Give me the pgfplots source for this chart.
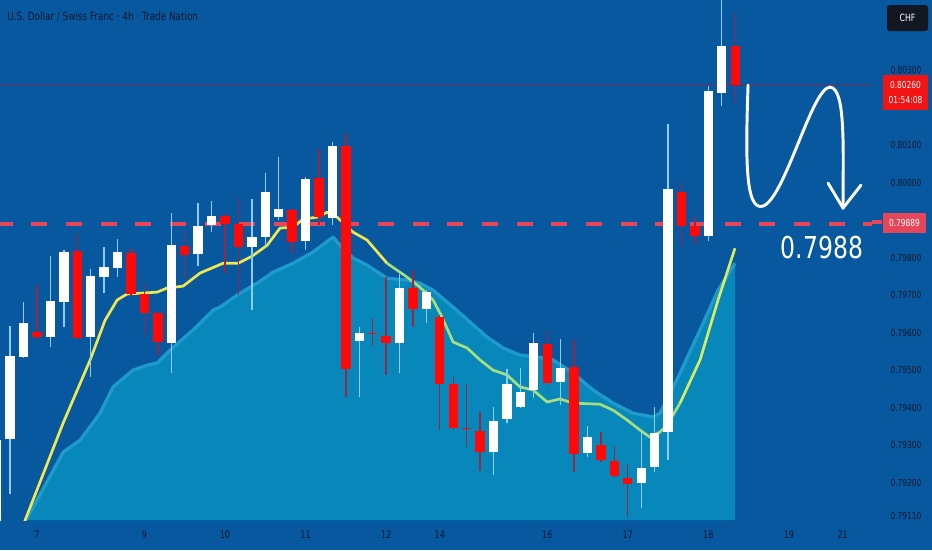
\documentclass[border=0pt]{standalone}
\usepackage{fontspec}
\setmainfont{DejaVu Sans}[FakeStretch=0.78]
\usepackage{pgfplots}
\usepackage{pgfplotstable}
\pgfplotsset{compat=1.18}

\definecolor{bg}{RGB}{7,88,158}
\definecolor{areac}{RGB}{8,136,186}
\definecolor{areal}{RGB}{30,154,204}
\definecolor{txt}{RGB}{12,24,48}
\definecolor{candred}{RGB}{255,8,8}
\definecolor{wickw}{RGB}{140,205,240}
\definecolor{wickr}{RGB}{150,40,70}
\definecolor{maY}{RGB}{240,232,80}
\definecolor{maG}{RGB}{165,222,125}
\definecolor{maYG}{RGB}{215,236,95}
\definecolor{dashr}{RGB}{230,70,90}
\definecolor{lastp}{RGB}{242,20,20}
\definecolor{lastline}{RGB}{110,45,85}
\definecolor{chfbox}{RGB}{19,23,34}

\pgfplotstableread{
i O H L C
0 0.79073 0.79327 0.79060 0.79313
1 0.79316 0.79617 0.79169 0.79537
2 0.79535 0.79681 0.79532 0.79625
4 0.79588 0.79804 0.79561 0.79684
5 0.79681 0.79820 0.79615 0.79815
7 0.79588 0.79769 0.79481 0.79751
8 0.79748 0.79828 0.79705 0.79775
9 0.79772 0.79849 0.79748 0.79815
13 0.79572 0.79919 0.79492 0.79833
15 0.79809 0.79945 0.79777 0.79884
16 0.79887 0.79951 0.79868 0.79911
19 0.79828 0.79956 0.79660 0.79855
20 0.79855 0.80025 0.79828 0.79975
21 0.79908 0.80068 0.79900 0.79929
23 0.79844 0.80015 0.79820 0.80009
25 0.79905 0.80108 0.79887 0.80097
27 0.79577 0.79615 0.79428 0.79599
30 0.79572 0.79756 0.79492 0.79719
32 0.79663 0.79713 0.79625 0.79708
37 0.79281 0.79401 0.79220 0.79364
38 0.79369 0.79503 0.79359 0.79463
39 0.79401 0.79505 0.79399 0.79441
40 0.79447 0.79599 0.79425 0.79572
42 0.79468 0.79583 0.79407 0.79505
44 0.79279 0.79351 0.79268 0.79321
48 0.79199 0.79340 0.79132 0.79239
49 0.79241 0.79401 0.79228 0.79332
50 0.79335 0.80156 0.79260 0.79983
53 0.79857 0.80257 0.79844 0.80244
54 0.80239 0.80500 0.80204 0.80364
}\bull

\pgfplotstableread{
i O H L C
3 0.79601 0.79727 0.79583 0.79588
6 0.79817 0.79865 0.79580 0.79585
10 0.79812 0.79825 0.79697 0.79703
11 0.79703 0.79732 0.79593 0.79652
12 0.79652 0.79655 0.79540 0.79575
14 0.79831 0.79873 0.79745 0.79807
17 0.79911 0.79916 0.79759 0.79889
18 0.79889 0.79959 0.79700 0.79828
22 0.79927 0.79932 0.79812 0.79841
24 0.80012 0.80089 0.79887 0.79908
26 0.80097 0.80132 0.79428 0.79503
28 0.79599 0.79639 0.79564 0.79596
29 0.79591 0.79748 0.79487 0.79572
31 0.79719 0.79767 0.79615 0.79663
33 0.79641 0.79647 0.79340 0.79463
34 0.79463 0.79481 0.79340 0.79345
35 0.79345 0.79463 0.79295 0.79343
36 0.79337 0.79388 0.79231 0.79281
41 0.79569 0.79607 0.79460 0.79465
43 0.79508 0.79580 0.79228 0.79276
45 0.79300 0.79335 0.79255 0.79260
46 0.79257 0.79297 0.79212 0.79217
47 0.79212 0.79249 0.79108 0.79196
51 0.79975 0.79999 0.79828 0.79884
52 0.79884 0.79908 0.79839 0.79857
55 0.80364 0.80452 0.80212 0.80260
}\bear

\pgfplotstableread{
x y
1.95 0.79080
2.12 0.79100
4.95 0.79359
6.96 0.79527
8.07 0.79633
8.97 0.79687
9.71 0.79703
11.95 0.79708
12.69 0.79719
13.88 0.79724
15.15 0.79759
16.86 0.79785
17.98 0.79785
19.02 0.79804
20.14 0.79833
21.10 0.79879
22.07 0.79881
22.82 0.79903
23.86 0.79908
24.60 0.79921
25.35 0.79908
26.54 0.79868
27.58 0.79847
29.07 0.79785
}\maA

\pgfplotstableread{
x y
29.07 0.79785
30.56 0.79748
31.53 0.79721
32.50 0.79687
33.17 0.79641
33.99 0.79575
35.03 0.79559
36.00 0.79527
36.96 0.79500
38.01 0.79487
38.97 0.79455
39.94 0.79447
40.99 0.79415
41.95 0.79423
42.92 0.79412
44.93 0.79409
45.90 0.79393
46.94 0.79367
47.91 0.79340
48.65 0.79321
49.40 0.79335
49.92 0.79353
50.89 0.79412
}\maB

\pgfplotstableread{
x y
50.89 0.79412
52.38 0.79527
53.72 0.79687
54.98 0.79825
}\maC

\pgfplotstableread{
x y
2.10 0.79100
2.27 0.79105
4.95 0.79281
6.21 0.79313
7.70 0.79385
8.67 0.79455
10.16 0.79500
11.20 0.79513
11.95 0.79519
13.14 0.79561
14.63 0.79607
16.12 0.79660
16.64 0.79668
17.90 0.79700
19.39 0.79732
20.58 0.79761
22.07 0.79785
23.56 0.79815
25.05 0.79855
25.57 0.79833
26.54 0.79799
27.58 0.79780
29.07 0.79745
30.56 0.79740
31.53 0.79732
32.50 0.79713
33.99 0.79668
35.25 0.79628
36.52 0.79588
37.71 0.79559
38.97 0.79540
40.24 0.79535
41.43 0.79527
42.92 0.79492
44.41 0.79447
45.90 0.79412
47.39 0.79385
48.88 0.79375
49.40 0.79385
50.89 0.79492
52.38 0.79607
53.72 0.79713
54.98 0.79785
54.98 0.79100
}\area

\pgfplotstableread{
x y
0 0.80260
70 0.80260
}\lastline

\pgfplotstableread{
x y
0 0.79889
70 0.79889
}\dashline

\begin{document}
\begin{tikzpicture}
\fill[bg] (0pt,0pt) rectangle (699pt,412.5pt);
\begin{axis}[
  at={(0pt,22.5pt)}, anchor=south west,
  scale only axis, width=654pt, height=390pt,
  xmin=0.2554, xmax=65.185, ymin=0.79100, ymax=0.80487,
  axis line style={draw=none},
  major tick length=0pt,
  scaled y ticks=false, scaled x ticks=false,
  xtick={3,11,17,23,29,33,41,47,53,59,63},
  xticklabels={7,9,10,11,12,14,16,17,18,19,21},
  ytick={0.7911,0.792,0.793,0.794,0.795,0.796,0.797,0.798,0.800,0.801,0.803},
  yticklabels={0.79110,0.79200,0.79300,0.79400,0.79500,0.79600,0.79700,0.79800,0.80000,0.80100,0.80300},
  yticklabel pos=right,
  xticklabel style={anchor=center, yshift=-11.25pt, font=\fontsize{7.8}{9}\selectfont, text=txt},
  yticklabel style={anchor=center, xshift=25.5pt, font=\fontsize{7.2}{9}\selectfont, text=txt},
]
% area
\addplot[fill=areac, draw=none] table[x=x,y=y] {\area};
\addplot[draw=areal, line width=2.5pt, line join=round, skip coords between index={43}{44}] table[x=x,y=y] {\area};
% last price line
\addplot[draw=lastline, line width=0.6pt] table[x=x,y=y] {\lastline};
% dashed level
\addplot[draw=dashr, line width=3pt, dash pattern=on 12pt off 14pt] table[x=x,y=y] {\dashline};
% moving average
\addplot[draw=maY, line width=2pt, line join=round] table[x=x,y=y] {\maA};
\addplot[draw=maG, line width=2pt, line join=round] table[x=x,y=y] {\maB};
\addplot[draw=maYG, line width=2pt, line join=round] table[x=x,y=y] {\maC};
% wicks
\addplot[draw=wickw, line width=1pt, -, quiver={u=0, v=\thisrow{H}-\thisrow{L}}] table[x=i, y=L] {\bull};
\addplot[draw=wickr, line width=1pt, -, quiver={u=0, v=\thisrow{H}-\thisrow{L}}] table[x=i, y=L] {\bear};
% bodies
\addplot[draw=white, line width=7pt, line cap=butt, -, quiver={u=0, v=\thisrow{C}-\thisrow{O}}] table[x=i, y=O] {\bull};
\addplot[draw=candred, line width=7pt, line cap=butt, -, quiver={u=0, v=\thisrow{O}-\thisrow{C}}] table[x=i, y=C] {\bear};
\end{axis}

\begin{scope}[x=0.75pt, y=-0.75pt, shift={(0pt,412.5pt)}]
% title
\node[anchor=west, text=txt, font=\fontsize{8.5}{10}\selectfont, inner sep=0pt] at (7,17) {U.S. Dollar / Swiss Franc · 4h · Trade Nation};
% CHF box
\fill[rounded corners=2pt, chfbox] (887,5) rectangle (928,31);
\node[white, font=\fontsize{7.5}{9}\selectfont] at (907.5,18) {CHF};
% last price label
\fill[lastp] (883,75) rectangle (928,110);
\node[white, font=\fontsize{7.2}{9}\selectfont, inner sep=0pt] at (905.5,85) {0.80260};
\node[white, font=\fontsize{7.2}{9}\selectfont, inner sep=0pt] at (905.5,100) {01:54:08};
% level label
\draw[dashr, line width=3pt] (872,222) -- (882,222);
\fill[dashr] (883,213) rectangle (926,233);
\node[white, font=\fontsize{7.2}{9}\selectfont, inner sep=0pt] at (904.5,223) {0.79889};
% arrow drawing
\draw[white, line width=2.2pt, line cap=round, line join=round]
  (748,85) .. controls (746,150) and (744,212) .. (763,206)
  .. controls (785,198) and (812,87) .. (830,87)
  .. controls (846,88) and (843,150) .. (843,208);
\draw[white, line width=2.2pt, line cap=round, line join=round] (828,183) -- (843,208) -- (861,185);
\node[white, font=\fontsize{22.6}{26}\selectfont, inner sep=0pt] at (822,247) {0.7988};
\end{scope}
\end{tikzpicture}
\end{document}
